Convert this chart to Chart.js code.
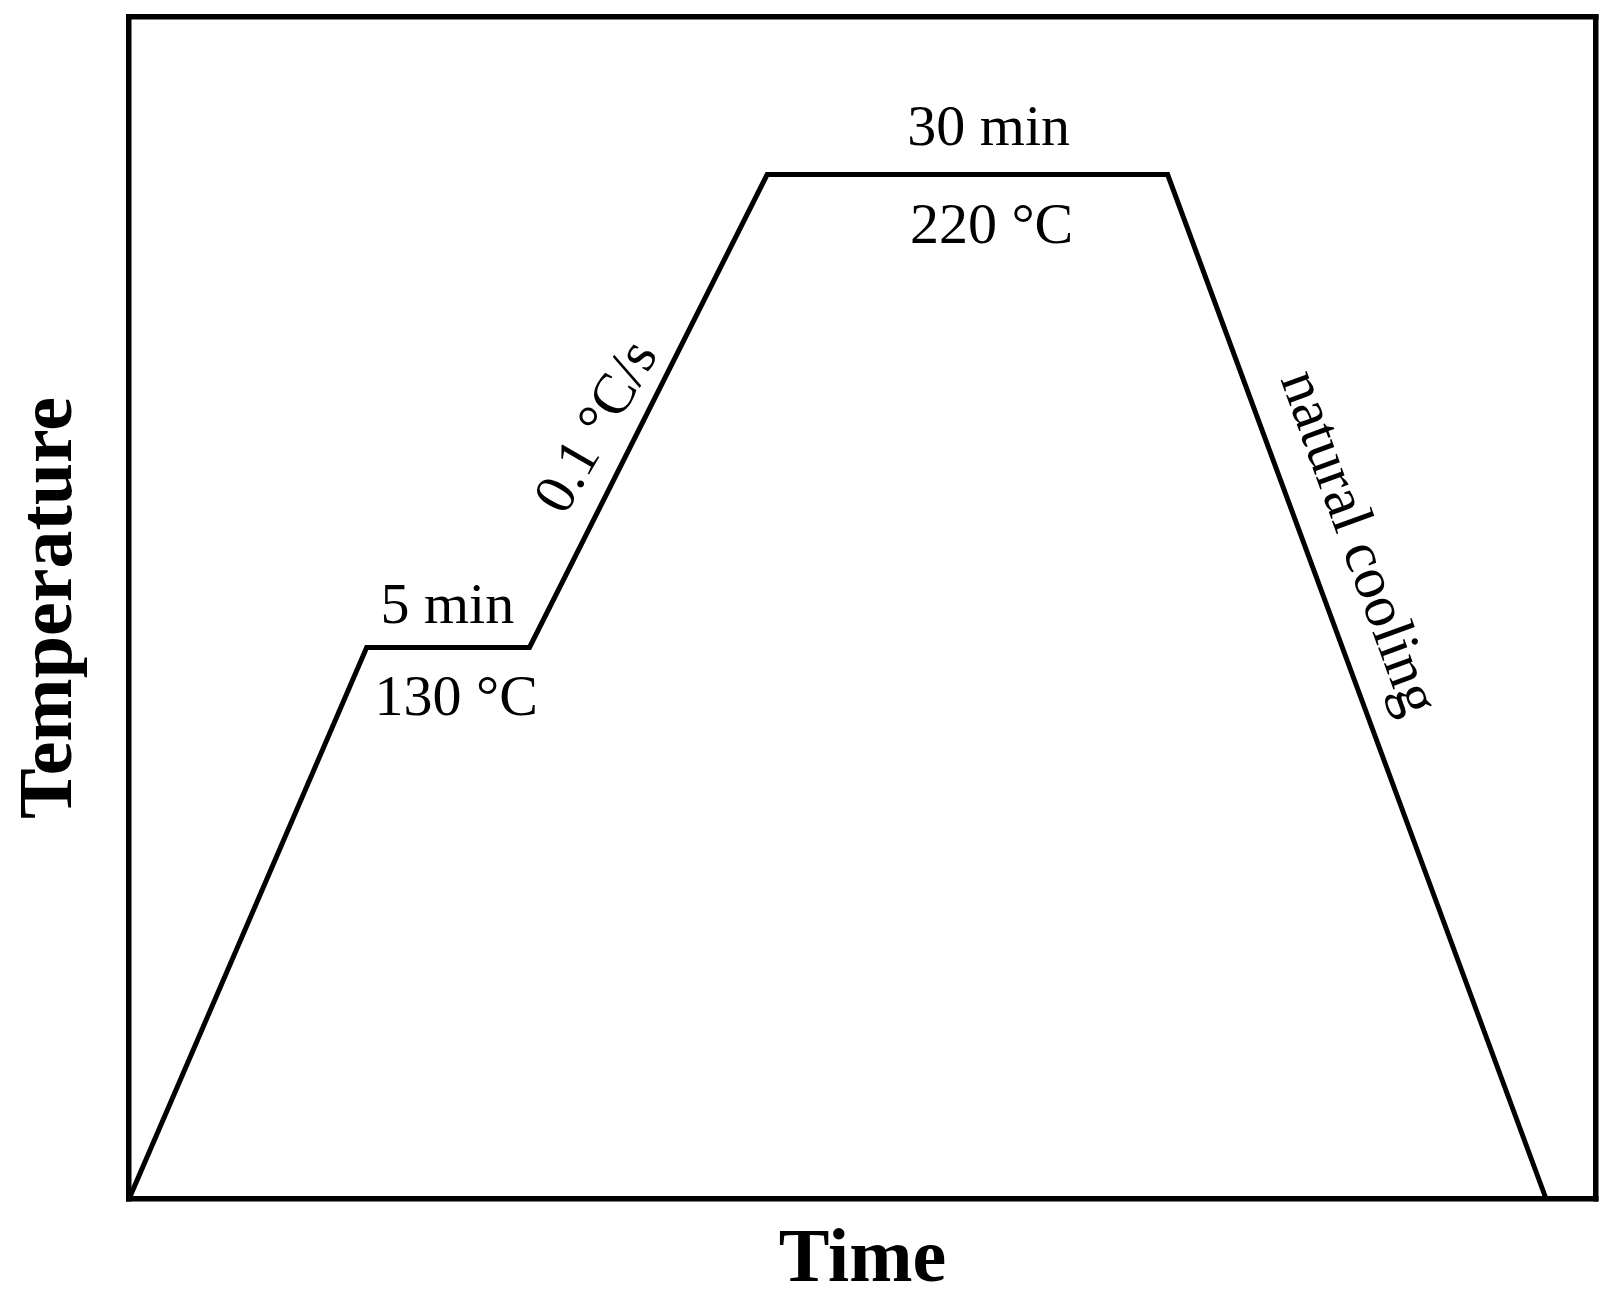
<!DOCTYPE html>
<html><head><meta charset="utf-8">
<script src="https://cdn.jsdelivr.net/npm/chart.js@4.4.0/dist/chart.umd.min.js"></script>
<style>html,body{margin:0;padding:0;background:#fff;} canvas{display:block;}</style>
</head><body>
<canvas id="c" width="1613" height="1302"></canvas>
<script>
// Heating profile (time in arbitrary units, temperature in °C)
const timeValues = [0, 16.2, 27.3, 43.5, 70.8, 96.6];
const temperatureValues = [25, 130, 130, 220, 220, 25];
const stageLabels = ["5 min", "130 °C", "0.1 °C/s", "30 min", "220 °C", "natural cooling"];
const axisTitles = ["Time", "Temperature"];

// placement of stage labels in data units
const labelPlacement = [
  {x: 21.7, y: 134.6, rot: 0,   base: 'alphabetic', size: 58},
  {x: 22.3, y: 117.1, rot: 0,   base: 'alphabetic', size: 58},
  {x: 32.0, y: 171.8, rot: -60, base: 'middle', size: 58},
  {x: 58.6, y: 225.6, rot: 0,   base: 'alphabetic', size: 58},
  {x: 58.8, y: 207.0, rot: 0,   base: 'alphabetic', size: 58},
  {x: 83.7, y: 149.8, rot: 70,  base: 'middle', size: 60}
];

const stageLabelPlugin = {
  id: 'stageLabels',
  afterDatasetsDraw(chart) {
    const ctx = chart.ctx, xs = chart.scales.x, ys = chart.scales.y;
    ctx.save();
    ctx.fillStyle = '#000';
    ctx.textAlign = 'center';
    stageLabels.forEach((t, i) => {
      const p = labelPlacement[i];
      ctx.save();
      ctx.font = p.size + 'px "Liberation Serif"';
      ctx.translate(xs.getPixelForValue(p.x), ys.getPixelForValue(p.y));
      ctx.rotate(p.rot * Math.PI / 180);
      ctx.textBaseline = p.base;
      ctx.fillText(t, 0, 0);
      ctx.restore();
    });
    ctx.restore();
  }
};

const frameW = 5.5;
const titleFont = {family: 'Liberation Serif', size: 76, weight: 'bold', lineHeight: 1};
function frameAxis(pos, min, max) {
  return {
    type: 'linear', position: pos, display: true, min: min, max: max,
    ticks: {display: false},
    grid: {display: false, drawTicks: false, lineWidth: frameW},
    border: {display: true, color: '#000', width: frameW}
  };
}
const xAxis = frameAxis('bottom', 0, 100);
xAxis.title = {display: true, text: axisTitles[0], color: '#000', font: titleFont, padding: {top: 24, bottom: 3}};
const yAxis = frameAxis('left', 25, 250);
yAxis.title = {display: true, text: axisTitles[1], color: '#000', font: titleFont, padding: {top: 13.5, bottom: 39.5}};

new Chart(document.getElementById('c'), {
  type: 'line',
  data: {
    datasets: [{
      data: timeValues.map((t, i) => ({x: t, y: temperatureValues[i]})),
      borderColor: '#000', borderWidth: 5, pointRadius: 0, tension: 0,
      fill: false, clip: false, borderJoinStyle: 'miter'
    }]
  },
  options: {
    responsive: false, animation: false, devicePixelRatio: 1,
    layout: {padding: {left: 0, right: 17, top: 17, bottom: 0}},
    plugins: {legend: {display: false}, tooltip: {enabled: false}},
    scales: {
      x: xAxis,
      y: yAxis,
      x2: frameAxis('top', 0, 100),
      y2: frameAxis('right', 25, 250)
    }
  },
  plugins: [stageLabelPlugin]
});
</script>
</body></html>
